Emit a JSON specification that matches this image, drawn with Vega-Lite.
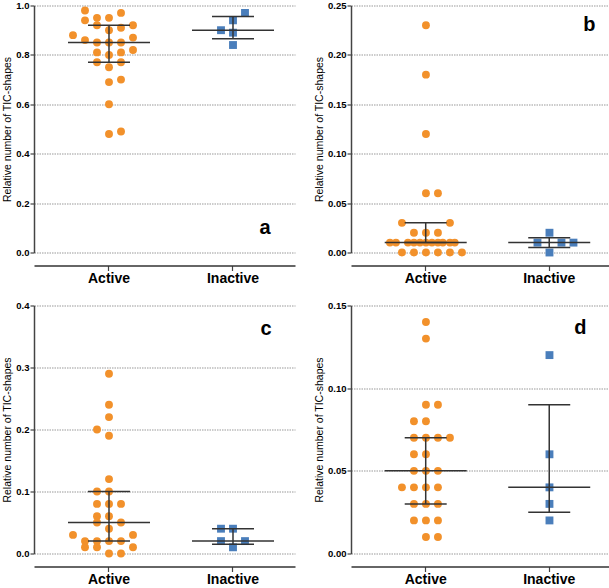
{
  "$schema": "https://vega.github.io/schema/vega-lite/v6.json",
  "padding": {"left": 2, "top": 0.5, "right": 0, "bottom": 0},
  "datasets": {
    "points": [
      {"panel":"a","group":"Active","value":0.98,"slot":-2},
      {"panel":"a","group":"Active","value":0.95,"slot":-1},
      {"panel":"a","group":"Active","value":0.95,"slot":0},
      {"panel":"a","group":"Active","value":0.97,"slot":1},
      {"panel":"a","group":"Active","value":0.94,"slot":-2},
      {"panel":"a","group":"Active","value":0.92,"slot":-1},
      {"panel":"a","group":"Active","value":0.92,"slot":2},
      {"panel":"a","group":"Active","value":0.90,"slot":0},
      {"panel":"a","group":"Active","value":0.91,"slot":1},
      {"panel":"a","group":"Active","value":0.88,"slot":-3},
      {"panel":"a","group":"Active","value":0.87,"slot":2},
      {"panel":"a","group":"Active","value":0.86,"slot":-2},
      {"panel":"a","group":"Active","value":0.85,"slot":-1},
      {"panel":"a","group":"Active","value":0.85,"slot":0},
      {"panel":"a","group":"Active","value":0.85,"slot":1},
      {"panel":"a","group":"Active","value":0.82,"slot":2},
      {"panel":"a","group":"Active","value":0.81,"slot":-1},
      {"panel":"a","group":"Active","value":0.81,"slot":1},
      {"panel":"a","group":"Active","value":0.80,"slot":0},
      {"panel":"a","group":"Active","value":0.77,"slot":-1},
      {"panel":"a","group":"Active","value":0.77,"slot":1},
      {"panel":"a","group":"Active","value":0.75,"slot":0},
      {"panel":"a","group":"Active","value":0.69,"slot":0},
      {"panel":"a","group":"Active","value":0.70,"slot":1},
      {"panel":"a","group":"Active","value":0.60,"slot":0},
      {"panel":"a","group":"Active","value":0.48,"slot":0},
      {"panel":"a","group":"Active","value":0.49,"slot":1},
      {"panel":"a","group":"Inactive","value":0.90,"slot":-1},
      {"panel":"a","group":"Inactive","value":0.94,"slot":0},
      {"panel":"a","group":"Inactive","value":0.97,"slot":1},
      {"panel":"a","group":"Inactive","value":0.89,"slot":0},
      {"panel":"a","group":"Inactive","value":0.84,"slot":0},

      {"panel":"b","group":"Active","value":0.23,"slot":0},
      {"panel":"b","group":"Active","value":0.18,"slot":0},
      {"panel":"b","group":"Active","value":0.12,"slot":0},
      {"panel":"b","group":"Active","value":0.06,"slot":0},
      {"panel":"b","group":"Active","value":0.06,"slot":1},
      {"panel":"b","group":"Active","value":0.03,"slot":-2},
      {"panel":"b","group":"Active","value":0.03,"slot":2},
      {"panel":"b","group":"Active","value":0.02,"slot":-1},
      {"panel":"b","group":"Active","value":0.02,"slot":0},
      {"panel":"b","group":"Active","value":0.02,"slot":1},
      {"panel":"b","group":"Active","value":0.01,"slot":-3},
      {"panel":"b","group":"Active","value":0.01,"slot":-2.5},
      {"panel":"b","group":"Active","value":0.01,"slot":-1.5},
      {"panel":"b","group":"Active","value":0.01,"slot":-1},
      {"panel":"b","group":"Active","value":0.01,"slot":-0.5},
      {"panel":"b","group":"Active","value":0.01,"slot":0},
      {"panel":"b","group":"Active","value":0.01,"slot":0.5},
      {"panel":"b","group":"Active","value":0.01,"slot":1},
      {"panel":"b","group":"Active","value":0.01,"slot":1.4},
      {"panel":"b","group":"Active","value":0.01,"slot":2},
      {"panel":"b","group":"Active","value":0.01,"slot":2.4},
      {"panel":"b","group":"Active","value":0.00,"slot":-2},
      {"panel":"b","group":"Active","value":0.00,"slot":-1},
      {"panel":"b","group":"Active","value":0.00,"slot":0},
      {"panel":"b","group":"Active","value":0.00,"slot":1},
      {"panel":"b","group":"Active","value":0.00,"slot":2},
      {"panel":"b","group":"Active","value":0.00,"slot":3},
      {"panel":"b","group":"Inactive","value":0.02,"slot":0},
      {"panel":"b","group":"Inactive","value":0.01,"slot":-1},
      {"panel":"b","group":"Inactive","value":0.01,"slot":1},
      {"panel":"b","group":"Inactive","value":0.01,"slot":2},
      {"panel":"b","group":"Inactive","value":0.00,"slot":0},

      {"panel":"c","group":"Active","value":0.29,"slot":0},
      {"panel":"c","group":"Active","value":0.24,"slot":0},
      {"panel":"c","group":"Active","value":0.22,"slot":0},
      {"panel":"c","group":"Active","value":0.20,"slot":-1},
      {"panel":"c","group":"Active","value":0.19,"slot":0},
      {"panel":"c","group":"Active","value":0.12,"slot":0},
      {"panel":"c","group":"Active","value":0.10,"slot":-1},
      {"panel":"c","group":"Active","value":0.10,"slot":0},
      {"panel":"c","group":"Active","value":0.08,"slot":-1},
      {"panel":"c","group":"Active","value":0.08,"slot":0},
      {"panel":"c","group":"Active","value":0.08,"slot":1},
      {"panel":"c","group":"Active","value":0.06,"slot":-1},
      {"panel":"c","group":"Active","value":0.06,"slot":0},
      {"panel":"c","group":"Active","value":0.05,"slot":-1},
      {"panel":"c","group":"Active","value":0.05,"slot":1},
      {"panel":"c","group":"Active","value":0.04,"slot":0},
      {"panel":"c","group":"Active","value":0.03,"slot":-3},
      {"panel":"c","group":"Active","value":0.03,"slot":2},
      {"panel":"c","group":"Active","value":0.02,"slot":-2},
      {"panel":"c","group":"Active","value":0.02,"slot":-1},
      {"panel":"c","group":"Active","value":0.02,"slot":0},
      {"panel":"c","group":"Active","value":0.02,"slot":1},
      {"panel":"c","group":"Active","value":0.01,"slot":-2},
      {"panel":"c","group":"Active","value":0.01,"slot":-1},
      {"panel":"c","group":"Active","value":0.01,"slot":2},
      {"panel":"c","group":"Active","value":0.00,"slot":0},
      {"panel":"c","group":"Active","value":0.00,"slot":1},
      {"panel":"c","group":"Inactive","value":0.04,"slot":-1},
      {"panel":"c","group":"Inactive","value":0.04,"slot":0},
      {"panel":"c","group":"Inactive","value":0.02,"slot":-1},
      {"panel":"c","group":"Inactive","value":0.02,"slot":1},
      {"panel":"c","group":"Inactive","value":0.01,"slot":0},

      {"panel":"d","group":"Active","value":0.14,"slot":0},
      {"panel":"d","group":"Active","value":0.13,"slot":0},
      {"panel":"d","group":"Active","value":0.09,"slot":0},
      {"panel":"d","group":"Active","value":0.09,"slot":1},
      {"panel":"d","group":"Active","value":0.08,"slot":-1},
      {"panel":"d","group":"Active","value":0.08,"slot":0},
      {"panel":"d","group":"Active","value":0.07,"slot":-1},
      {"panel":"d","group":"Active","value":0.07,"slot":0},
      {"panel":"d","group":"Active","value":0.07,"slot":1},
      {"panel":"d","group":"Active","value":0.07,"slot":2},
      {"panel":"d","group":"Active","value":0.06,"slot":-1},
      {"panel":"d","group":"Active","value":0.06,"slot":0},
      {"panel":"d","group":"Active","value":0.05,"slot":-1},
      {"panel":"d","group":"Active","value":0.05,"slot":0},
      {"panel":"d","group":"Active","value":0.05,"slot":1},
      {"panel":"d","group":"Active","value":0.04,"slot":-2},
      {"panel":"d","group":"Active","value":0.04,"slot":-1},
      {"panel":"d","group":"Active","value":0.04,"slot":0},
      {"panel":"d","group":"Active","value":0.04,"slot":1},
      {"panel":"d","group":"Active","value":0.03,"slot":-1},
      {"panel":"d","group":"Active","value":0.03,"slot":0},
      {"panel":"d","group":"Active","value":0.03,"slot":1},
      {"panel":"d","group":"Active","value":0.02,"slot":-1},
      {"panel":"d","group":"Active","value":0.02,"slot":0},
      {"panel":"d","group":"Active","value":0.02,"slot":1},
      {"panel":"d","group":"Active","value":0.01,"slot":0},
      {"panel":"d","group":"Active","value":0.01,"slot":1},
      {"panel":"d","group":"Inactive","value":0.12,"slot":0},
      {"panel":"d","group":"Inactive","value":0.06,"slot":0},
      {"panel":"d","group":"Inactive","value":0.04,"slot":0},
      {"panel":"d","group":"Inactive","value":0.03,"slot":0},
      {"panel":"d","group":"Inactive","value":0.02,"slot":0}
    ],
    "summary": [
      {"panel":"a","group":"Active","median":0.85,"q1":0.77,"q3":0.92},
      {"panel":"a","group":"Inactive","median":0.90,"q1":0.865,"q3":0.955},
      {"panel":"b","group":"Active","median":0.01,"q1":0.01,"q3":0.03},
      {"panel":"b","group":"Inactive","median":0.01,"q1":0.005,"q3":0.015},
      {"panel":"c","group":"Active","median":0.05,"q1":0.02,"q3":0.10},
      {"panel":"c","group":"Inactive","median":0.02,"q1":0.015,"q3":0.04},
      {"panel":"d","group":"Active","median":0.05,"q1":0.03,"q3":0.07},
      {"panel":"d","group":"Inactive","median":0.04,"q1":0.025,"q3":0.09}
    ],
    "labels": [
      {"panel":"a","label":"a","group":"Inactive","value":0.1},
      {"panel":"b","label":"b","group":"Inactive","value":0.23},
      {"panel":"c","label":"c","group":"Inactive","value":0.362},
      {"panel":"d","label":"d","group":"Inactive","value":0.1365}
    ]
  },
  "vconcat": [
    {
      "hconcat": [
        {
          "width": 261, "height": 247,
          "layer": [
            {"data":{"name":"points"},"transform":[{"filter":"datum.panel==='a'"}],
             "mark":{"type":"point","filled":true,"opacity":1,"size":62,"strokeWidth":0},
             "encoding":{
               "x":{"field":"group","type":"nominal","title":null,"scale":{"type":"band","domain":["Active","Inactive"],"paddingInner":0,"paddingOuter":0.0524,"align":1}},
               "xOffset":{"field":"slot","type":"quantitative","scale":{"domain":[-5.1667,5.1667]}},
               "y":{"field":"value","type":"quantitative","title":"Relative number of TIC-shapes","scale":{"domain":[0,1],"nice":false},"axis":{"values":[0,0.1,0.2,0.3,0.4,0.5,0.6,0.7,0.8,0.9,1.0],"format":".1f"}},
               "color":{"field":"group","type":"nominal","scale":{"domain":["Active","Inactive"],"range":["#F2912B","#4A7EBB"]},"legend":null},
               "shape":{"field":"group","type":"nominal","scale":{"domain":["Active","Inactive"],"range":["circle","square"]},"legend":null}
             }},
            {"data":{"name":"summary"},"transform":[{"filter":"datum.panel==='a'"}],
             "mark":{"type":"rule","color":"#333","strokeWidth":1.5},
             "encoding":{"x":{"field":"group","type":"nominal","title":null},"y":{"field":"q1","type":"quantitative","title":"Relative number of TIC-shapes"},"y2":{"field":"q3"}}},
            {"data":{"name":"summary"},"transform":[{"filter":"datum.panel==='a'"}],
             "mark":{"type":"tick","size":82,"thickness":1.5,"color":"#333","opacity":1},
             "encoding":{"x":{"field":"group","type":"nominal","title":null},"y":{"field":"median","type":"quantitative","title":"Relative number of TIC-shapes"}}},
            {"data":{"name":"summary"},"transform":[{"filter":"datum.panel==='a'"}],
             "mark":{"type":"tick","size":42,"thickness":1.5,"color":"#333","opacity":1},
             "encoding":{"x":{"field":"group","type":"nominal","title":null},"y":{"field":"q1","type":"quantitative","title":"Relative number of TIC-shapes"}}},
            {"data":{"name":"summary"},"transform":[{"filter":"datum.panel==='a'"}],
             "mark":{"type":"tick","size":42,"thickness":1.5,"color":"#333","opacity":1},
             "encoding":{"x":{"field":"group","type":"nominal","title":null},"y":{"field":"q3","type":"quantitative","title":"Relative number of TIC-shapes"}}},
            {"data":{"name":"labels"},"transform":[{"filter":"datum.panel==='a'"}],
             "mark":{"type":"text","fontSize":20,"fontWeight":"bold","dx":32,"baseline":"middle","align":"center","color":"#000"},
             "encoding":{"x":{"field":"group","type":"nominal","title":null},"y":{"field":"value","type":"quantitative","title":"Relative number of TIC-shapes"},"text":{"field":"label"}}}
          ]
        },
        {
          "width": 260, "height": 247,
          "layer": [
            {"data":{"name":"points"},"transform":[{"filter":"datum.panel==='b'"}],
             "mark":{"type":"point","filled":true,"opacity":1,"size":62,"strokeWidth":0},
             "encoding":{
               "x":{"field":"group","type":"nominal","title":null,"scale":{"type":"band","domain":["Active","Inactive"],"paddingInner":0,"paddingOuter":0.0524,"align":1}},
               "xOffset":{"field":"slot","type":"quantitative","scale":{"domain":[-5.1667,5.1667]}},
               "y":{"field":"value","type":"quantitative","title":"Relative number of TIC-shapes","scale":{"domain":[0,0.25],"nice":false},"axis":{"values":[0,0.05,0.1,0.15,0.2,0.25],"format":".2f"}},
               "color":{"field":"group","type":"nominal","scale":{"domain":["Active","Inactive"],"range":["#F2912B","#4A7EBB"]},"legend":null},
               "shape":{"field":"group","type":"nominal","scale":{"domain":["Active","Inactive"],"range":["circle","square"]},"legend":null}
             }},
            {"data":{"name":"summary"},"transform":[{"filter":"datum.panel==='b'"}],
             "mark":{"type":"rule","color":"#333","strokeWidth":1.5},
             "encoding":{"x":{"field":"group","type":"nominal","title":null},"y":{"field":"q1","type":"quantitative","title":"Relative number of TIC-shapes"},"y2":{"field":"q3"}}},
            {"data":{"name":"summary"},"transform":[{"filter":"datum.panel==='b'"}],
             "mark":{"type":"tick","size":82,"thickness":1.5,"color":"#333","opacity":1},
             "encoding":{"x":{"field":"group","type":"nominal","title":null},"y":{"field":"median","type":"quantitative","title":"Relative number of TIC-shapes"}}},
            {"data":{"name":"summary"},"transform":[{"filter":"datum.panel==='b'"}],
             "mark":{"type":"tick","size":42,"thickness":1.5,"color":"#333","opacity":1},
             "encoding":{"x":{"field":"group","type":"nominal","title":null},"y":{"field":"q1","type":"quantitative","title":"Relative number of TIC-shapes"}}},
            {"data":{"name":"summary"},"transform":[{"filter":"datum.panel==='b'"}],
             "mark":{"type":"tick","size":42,"thickness":1.5,"color":"#333","opacity":1},
             "encoding":{"x":{"field":"group","type":"nominal","title":null},"y":{"field":"q3","type":"quantitative","title":"Relative number of TIC-shapes"}}},
            {"data":{"name":"labels"},"transform":[{"filter":"datum.panel==='b'"}],
             "mark":{"type":"text","fontSize":20,"fontWeight":"bold","dx":40,"baseline":"middle","align":"center","color":"#000"},
             "encoding":{"x":{"field":"group","type":"nominal","title":null},"y":{"field":"value","type":"quantitative","title":"Relative number of TIC-shapes"},"text":{"field":"label"}}}
          ]
        }
      ]
    },
    {
      "hconcat": [
        {
          "width": 261, "height": 248,
          "layer": [
            {"data":{"name":"points"},"transform":[{"filter":"datum.panel==='c'"}],
             "mark":{"type":"point","filled":true,"opacity":1,"size":62,"strokeWidth":0},
             "encoding":{
               "x":{"field":"group","type":"nominal","title":null,"scale":{"type":"band","domain":["Active","Inactive"],"paddingInner":0,"paddingOuter":0.0524,"align":1}},
               "xOffset":{"field":"slot","type":"quantitative","scale":{"domain":[-5.1667,5.1667]}},
               "y":{"field":"value","type":"quantitative","title":"Relative number of TIC-shapes","scale":{"domain":[0,0.4],"nice":false},"axis":{"values":[0,0.1,0.2,0.3,0.4],"format":".1f"}},
               "color":{"field":"group","type":"nominal","scale":{"domain":["Active","Inactive"],"range":["#F2912B","#4A7EBB"]},"legend":null},
               "shape":{"field":"group","type":"nominal","scale":{"domain":["Active","Inactive"],"range":["circle","square"]},"legend":null}
             }},
            {"data":{"name":"summary"},"transform":[{"filter":"datum.panel==='c'"}],
             "mark":{"type":"rule","color":"#333","strokeWidth":1.5},
             "encoding":{"x":{"field":"group","type":"nominal","title":null},"y":{"field":"q1","type":"quantitative","title":"Relative number of TIC-shapes"},"y2":{"field":"q3"}}},
            {"data":{"name":"summary"},"transform":[{"filter":"datum.panel==='c'"}],
             "mark":{"type":"tick","size":82,"thickness":1.5,"color":"#333","opacity":1},
             "encoding":{"x":{"field":"group","type":"nominal","title":null},"y":{"field":"median","type":"quantitative","title":"Relative number of TIC-shapes"}}},
            {"data":{"name":"summary"},"transform":[{"filter":"datum.panel==='c'"}],
             "mark":{"type":"tick","size":42,"thickness":1.5,"color":"#333","opacity":1},
             "encoding":{"x":{"field":"group","type":"nominal","title":null},"y":{"field":"q1","type":"quantitative","title":"Relative number of TIC-shapes"}}},
            {"data":{"name":"summary"},"transform":[{"filter":"datum.panel==='c'"}],
             "mark":{"type":"tick","size":42,"thickness":1.5,"color":"#333","opacity":1},
             "encoding":{"x":{"field":"group","type":"nominal","title":null},"y":{"field":"q3","type":"quantitative","title":"Relative number of TIC-shapes"}}},
            {"data":{"name":"labels"},"transform":[{"filter":"datum.panel==='c'"}],
             "mark":{"type":"text","fontSize":20,"fontWeight":"bold","dx":33,"baseline":"middle","align":"center","color":"#000"},
             "encoding":{"x":{"field":"group","type":"nominal","title":null},"y":{"field":"value","type":"quantitative","title":"Relative number of TIC-shapes"},"text":{"field":"label"}}}
          ]
        },
        {
          "width": 260, "height": 248,
          "layer": [
            {"data":{"name":"points"},"transform":[{"filter":"datum.panel==='d'"}],
             "mark":{"type":"point","filled":true,"opacity":1,"size":62,"strokeWidth":0},
             "encoding":{
               "x":{"field":"group","type":"nominal","title":null,"scale":{"type":"band","domain":["Active","Inactive"],"paddingInner":0,"paddingOuter":0.0524,"align":1}},
               "xOffset":{"field":"slot","type":"quantitative","scale":{"domain":[-5.1667,5.1667]}},
               "y":{"field":"value","type":"quantitative","title":"Relative number of TIC-shapes","scale":{"domain":[0,0.15],"nice":false},"axis":{"values":[0,0.05,0.1,0.15],"format":".2f"}},
               "color":{"field":"group","type":"nominal","scale":{"domain":["Active","Inactive"],"range":["#F2912B","#4A7EBB"]},"legend":null},
               "shape":{"field":"group","type":"nominal","scale":{"domain":["Active","Inactive"],"range":["circle","square"]},"legend":null}
             }},
            {"data":{"name":"summary"},"transform":[{"filter":"datum.panel==='d'"}],
             "mark":{"type":"rule","color":"#333","strokeWidth":1.5},
             "encoding":{"x":{"field":"group","type":"nominal","title":null},"y":{"field":"q1","type":"quantitative","title":"Relative number of TIC-shapes"},"y2":{"field":"q3"}}},
            {"data":{"name":"summary"},"transform":[{"filter":"datum.panel==='d'"}],
             "mark":{"type":"tick","size":82,"thickness":1.5,"color":"#333","opacity":1},
             "encoding":{"x":{"field":"group","type":"nominal","title":null},"y":{"field":"median","type":"quantitative","title":"Relative number of TIC-shapes"}}},
            {"data":{"name":"summary"},"transform":[{"filter":"datum.panel==='d'"}],
             "mark":{"type":"tick","size":42,"thickness":1.5,"color":"#333","opacity":1},
             "encoding":{"x":{"field":"group","type":"nominal","title":null},"y":{"field":"q1","type":"quantitative","title":"Relative number of TIC-shapes"}}},
            {"data":{"name":"summary"},"transform":[{"filter":"datum.panel==='d'"}],
             "mark":{"type":"tick","size":42,"thickness":1.5,"color":"#333","opacity":1},
             "encoding":{"x":{"field":"group","type":"nominal","title":null},"y":{"field":"q3","type":"quantitative","title":"Relative number of TIC-shapes"}}},
            {"data":{"name":"labels"},"transform":[{"filter":"datum.panel==='d'"}],
             "mark":{"type":"text","fontSize":20,"fontWeight":"bold","dx":31,"baseline":"middle","align":"center","color":"#000"},
             "encoding":{"x":{"field":"group","type":"nominal","title":null},"y":{"field":"value","type":"quantitative","title":"Relative number of TIC-shapes"},"text":{"field":"label"}}}
          ]
        }
      ]
    }
  ],
  "spacing": 15,
  "config": {
    "view": {"stroke": null},
    "font": "Liberation Sans",
    "concat": {"spacing": 19},
    "axis": {"domainColor": "#444", "domainWidth": 1.5, "tickColor": "#444", "tickWidth": 1.2, "labelColor": "#000", "titleColor": "#000", "labelFont": "Liberation Sans", "titleFont": "Liberation Sans", "labelOverlap": false},
    "axisY": {"grid": true, "gridDash": [1.5, 1], "gridColor": "#999999", "gridWidth": 1.2, "tickSize": 4, "labelFontSize": 9.5, "labelFontWeight": "bold", "labelPadding": 1, "titleFontSize": 10.5, "titleFontWeight": "normal", "titlePadding": 3},
    "axisX": {"offset": 13, "tickSize": 5, "labelFontSize": 14, "labelFontWeight": "bold", "labelPadding": 1, "labelAngle": 0, "grid": false, "domainColor": "#333"}
  }
}
